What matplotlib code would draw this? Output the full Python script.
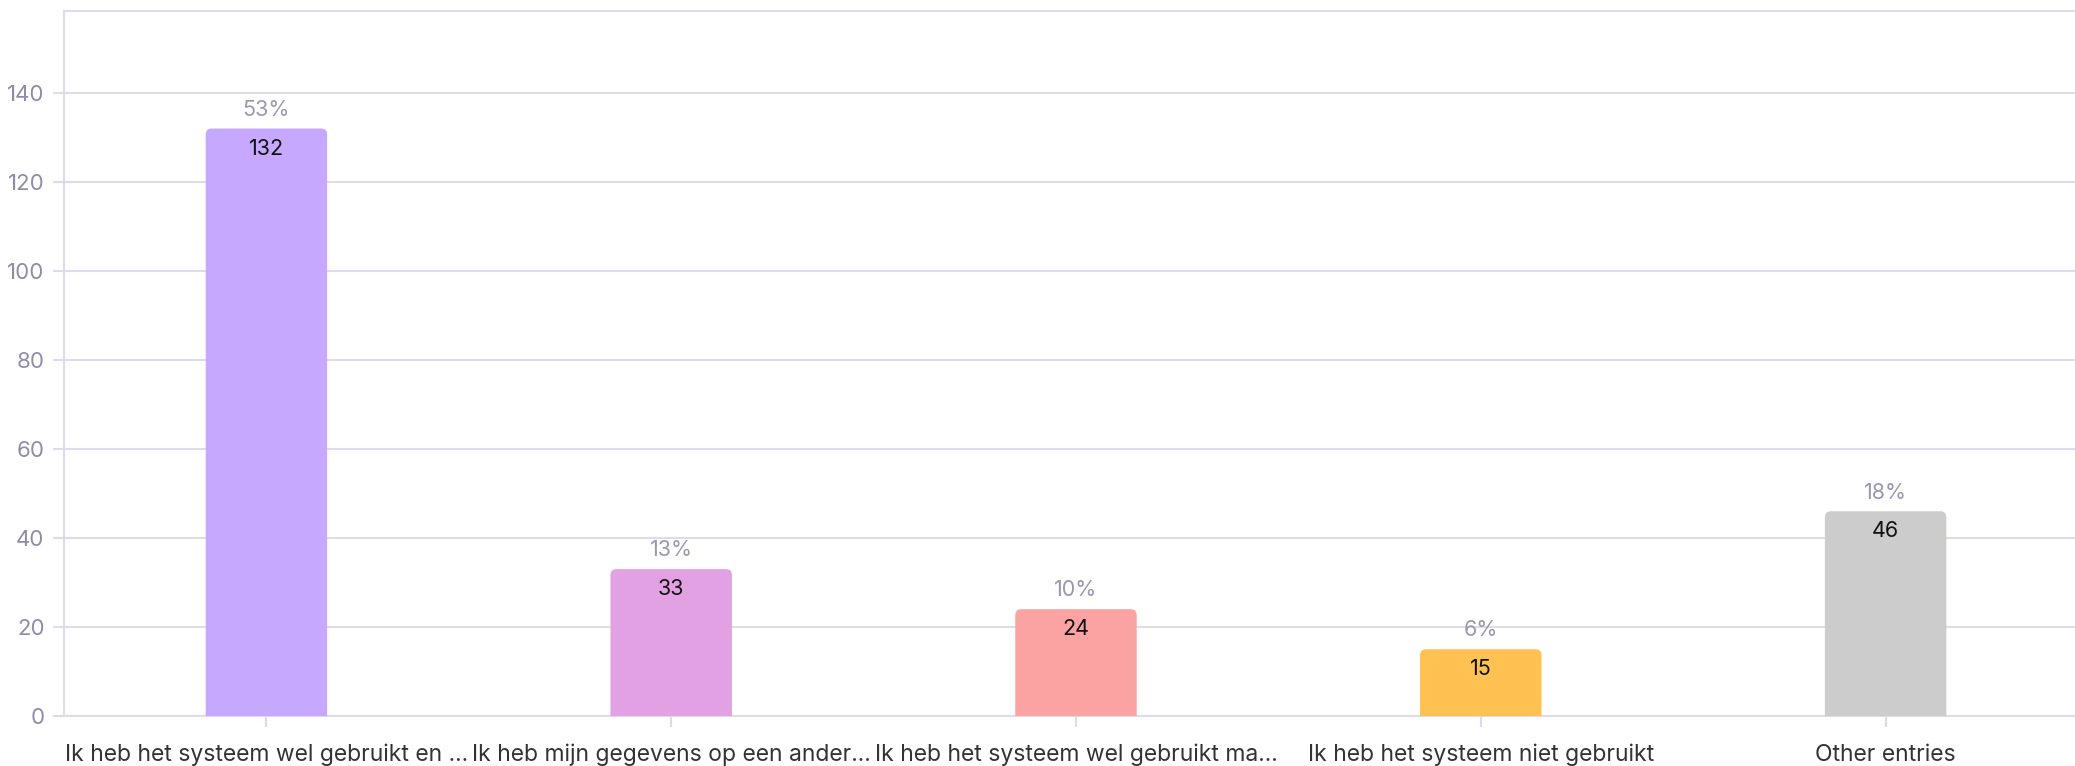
import matplotlib
matplotlib.use("Agg")
import matplotlib.pyplot as plt
from matplotlib.patches import FancyBboxPatch

categories = [
    "Ik heb het systeem wel gebruikt en ...",
    "Ik heb mijn gegevens op een ander...",
    "Ik heb het systeem wel gebruikt ma...",
    "Ik heb het systeem niet gebruikt",
    "Other entries",
]
values = [132, 33, 24, 15, 46]
percents = ["53%", "13%", "10%", "6%", "18%"]
colors = ["#C6A9FF", "#E2A1E3", "#FBA3A3", "#FFC252", "#CCCCCC"]
yticks = [0, 20, 40, 60, 80, 100, 120, 140]

plt.rcParams["font.family"] = ["Inter", "DejaVu Sans"]

W, H, DPI = 2075, 766, 100
fig = plt.figure(figsize=(W / DPI, H / DPI), dpi=DPI)
ax = fig.add_axes([64 / W, 50 / H, 2024 / W, (716 - 11) / H])

grid_c = "#DEDCEC"
x = list(range(len(values)))
bars = ax.bar(x, values, width=0.3, color=colors, zorder=3)

ax.set_xlim(-0.5, len(values) - 0.5)
ax.set_ylim(0, max(values) * 1.2)

# rounded top corners
fig.canvas.draw()
px_x = ax.transData.transform((1, 0))[0] - ax.transData.transform((0, 0))[0]
px_y = ax.transData.transform((0, 1))[1] - ax.transData.transform((0, 0))[1]
r_px = 6
for b, c in zip(bars, colors):
    b.set_visible(False)
    bx, bw, bh = b.get_x(), b.get_width(), b.get_height()
    rx = r_px / px_x
    p = FancyBboxPatch((bx, -r_px * 2 / px_y), bw, bh + r_px * 2 / px_y,
                       boxstyle=f"round,pad=0,rounding_size={rx}",
                       mutation_aspect=px_x / px_y,
                       facecolor=c, edgecolor="none", zorder=3)
    ax.add_patch(p)

for xi, v, pc in zip(x, values, percents):
    ax.annotate(pc, (xi, v), xytext=(0, 13.5), textcoords="offset points",
                ha="center", va="center", fontsize=15.5, color="#9A98B0", zorder=4)
    ax.annotate(str(v), (xi, v), xytext=(0, -14.5), textcoords="offset points",
                ha="center", va="center", fontsize=15.5, color="#111111", zorder=4)

ax.set_yticks(yticks)
ax.set_xticks(x)
ax.set_xticklabels(categories, fontsize=16.5, color="#333333")
ax.tick_params(axis="y", labelsize=16, labelcolor="#8E8CA8", color=grid_c,
               length=8, width=1.5, pad=6)
ax.tick_params(axis="x", color=grid_c, length=8, width=1.5, pad=12)
ax.grid(axis="y", color=grid_c, linewidth=1.5, zorder=0)
ax.set_axisbelow(True)
for s in ["left", "bottom", "top"]:
    ax.spines[s].set_color(grid_c)
    ax.spines[s].set_linewidth(1.5)
ax.spines["right"].set_visible(False)

fig.savefig("out.png", dpi=DPI, facecolor="white")
